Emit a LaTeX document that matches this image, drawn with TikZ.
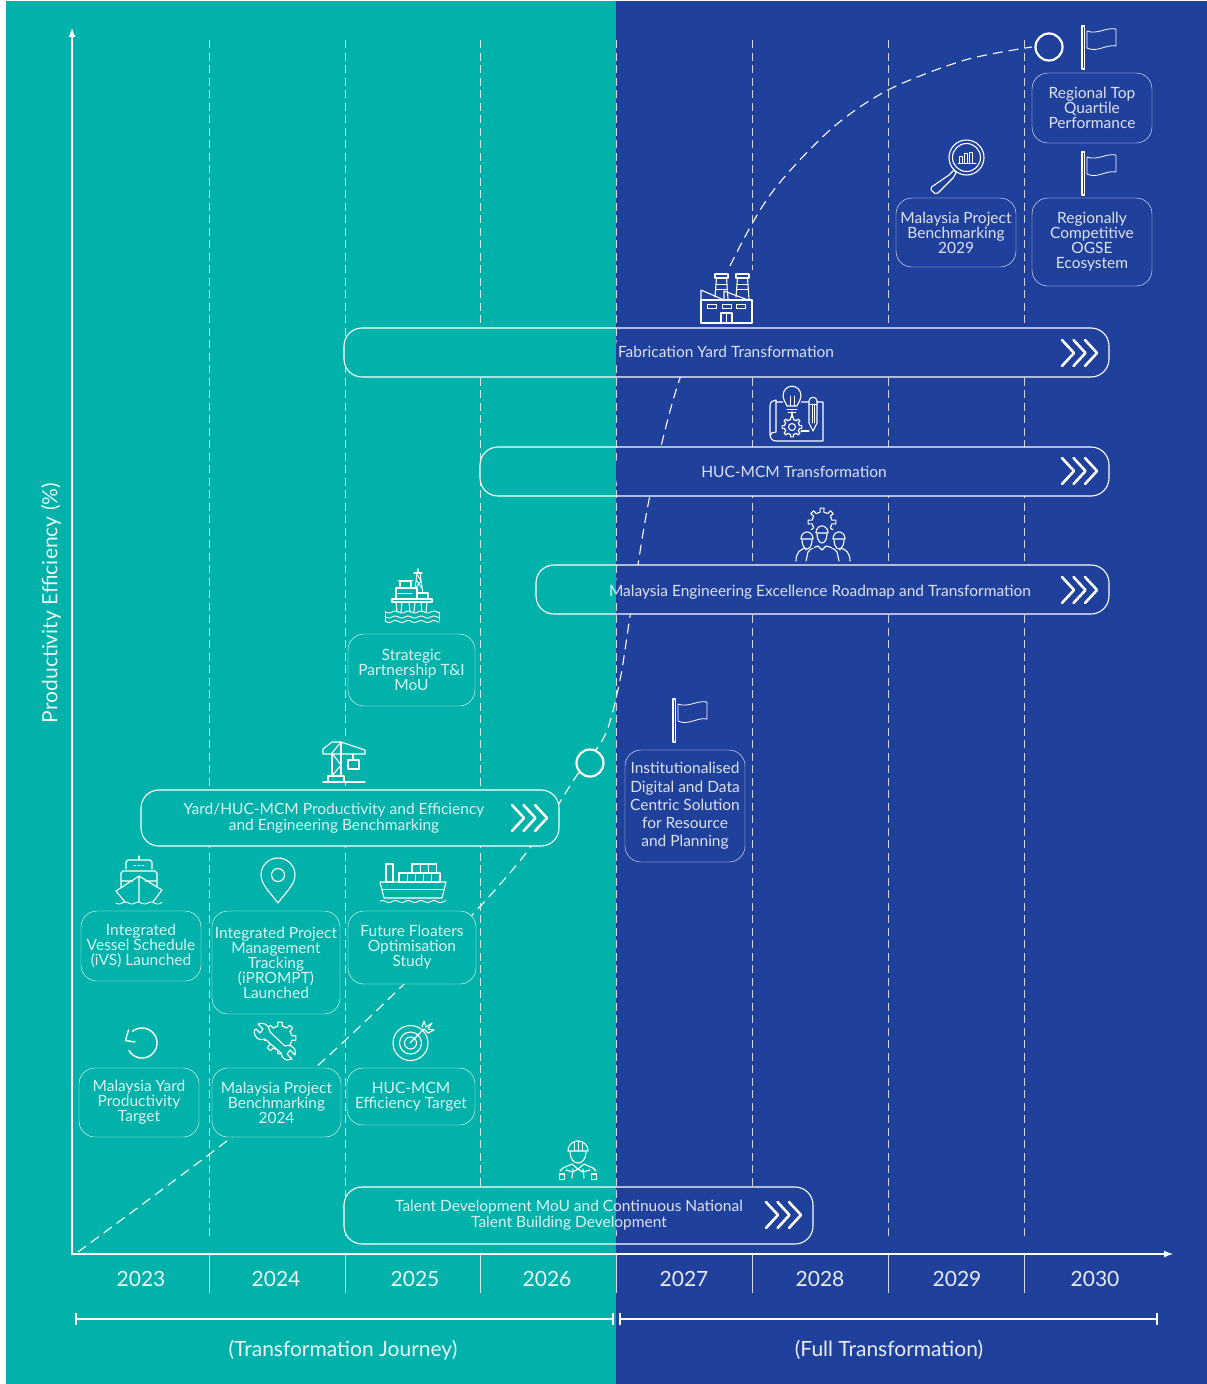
\documentclass[tikz,border=0pt]{standalone}
\usepackage{fontspec}
\setmainfont{Lato}
\definecolor{tealbg}{RGB}{0,178,169}
\definecolor{bluebg}{RGB}{31,64,155}
\tikzset{
  iconline/.style={draw=white, line width=1.1pt, line join=round, line cap=round},
  gridline/.style={draw=white, opacity=.8, line width=1pt, dash pattern=on 8pt off 4.5pt},
  trendline/.style={draw=white, line width=1.1pt, dash pattern=on 10pt off 6pt},
  axisline/.style={draw=white, line width=2pt},
  cardbox/.style={draw=white, opacity=1, rounded corners=16pt, inner sep=0pt, align=center, text=white, text opacity=.85, font=\fontsize{15.5}{15}\selectfont},
  tealcard/.style={cardbox, fill=tealbg},
  bluecard/.style={cardbox, fill=bluebg},
  barbox/.style={draw=white, line width=1.1pt, rounded corners=18pt, inner sep=0pt,
    path picture={
      \fill[tealbg] (divide |- path picture bounding box.north) rectangle (path picture bounding box.south west);
      \fill[bluebg] (divide |- path picture bounding box.north) rectangle (path picture bounding box.south east);
    }},
  bartext/.style={align=center, text=white, text opacity=.85, inner sep=0pt, font=\fontsize{15.5}{16}\selectfont},
  yeartext/.style={text=white, text opacity=.9, inner sep=0pt, font=\fontsize{21}{21}\selectfont},
  marker/.style={circle, draw=white, line width=2.2pt, minimum size=27pt, inner sep=0pt},
}
\newcommand{\chevrons}[2]{\foreach \i in {0,11.5,23} \draw[white, line width=2.6pt, line cap=round, line join=round] (#1+\i,#2-13) -- (#1+\i+12,#2) -- (#1+\i,#2+13);}
\newcommand{\flagicon}[2]{
  \draw[iconline] (#1,#2) rectangle ++(2.5,43);
  \draw[iconline, line width=.8pt] (#1+5,#2+5) .. controls (#1+15,#2+9) and (#1+24,#2+1) .. (#1+34,#2+3) -- (#1+34,#2+20) .. controls (#1+24,#2+18) and (#1+15,#2+27) .. (#1+5,#2+22) -- cycle;}
\newcommand{\gearicon}[4]{\foreach \a in {0,45,...,315} \draw[iconline, shift={(#1,#2)}] (\a-22.5:#3) -- (\a-11:#3) -- (\a-8:#4) -- (\a+8:#4) -- (\a+11:#3) -- (\a+22.5:#3);}
\newcommand{\wavyline}[3]{\draw[iconline, line width=.9pt] plot[domain=#1:#2, samples=50] (\x,{#3+1*sin(\x*28)});}
\newcommand{\workerhead}[3]{
  \fill[#3] (#1-7,#2-2) rectangle (#1+7,#2+8);
  \draw[iconline] plot[domain=180:360, samples=20] ({#1+6*cos(\x)},{#2-1+7*sin(\x)}) -- cycle;
  \draw[iconline] (#1-5,#2) .. controls (#1-5,#2+6) and (#1-2,#2+9) .. (#1,#2+9) .. controls (#1+2,#2+9) and (#1+5,#2+6) .. (#1+5,#2);}
\begin{document}
\begin{tikzpicture}[x=1pt, y=-1pt]
\useasboundingbox (0,0) rectangle (1207,1384);
\coordinate (divide) at (616,0);
\fill[tealbg] (6,1) rectangle (616,1384);
\fill[bluebg] (616,1) rectangle (1207,1384);
% year columns
\foreach \x in {209,345,480,616,752,888,1024} {
  \draw[gridline] (\x,40) -- (\x,1238);
  \draw[white, opacity=.8, line width=1pt] (\x,1254) -- (\x,1293);
}
% axes
\coordinate (ytop) at (72,28);
\coordinate (orig) at (72,1254);
\coordinate (xend) at (1173,1254);
\draw[axisline, <->, >=latex] (ytop) -- (orig) -- (xend);
\node[yeartext, rotate=90] (effaxis) at (51,603) {Productivity Efficiency (\%)};
\foreach \x/\yr in {141/2023,276/2024,415/2025,547/2026,684/2027,820/2028,957/2029,1095/2030}
  \node[yeartext] (yr\yr) at (\x,1279) {\yr};
\coordinate (jstart) at (75,1319);
\coordinate (jend) at (614,1319);
\coordinate (fstart) at (619,1319);
\coordinate (fend) at (1158,1319);
\draw[axisline, line width=1.8pt, |-|] (jstart) -- (jend);
\draw[axisline, line width=1.8pt, |-|] (fstart) -- (fend);
\node[yeartext] (journey) at (343,1350) {(Transformation Journey)};
\node[yeartext] (fulltrans) at (889,1350) {(Full Transformation)};
% trend curve
\draw[trendline] plot[smooth] coordinates {(78,1252) (232,1137) (315,1068) (400,988) (475,912) (530,848) (575,778) (605,735) (620,680) (631,610) (650,495) (680,378) (727,272) (770,195) (830,130) (888,90) (965,60) (1032,47)};
\node[marker, fill=tealbg] (midmark) at (590,763) {};
\node[marker, fill=bluebg] (endmark) at (1049,47) {};
% long bars
\node[barbox, minimum width=765pt, minimum height=49pt] (fabbar) at (726.5,352.5) {};
\node[bartext] (fabtext) at (726,352) {Fabrication Yard Transformation};
\chevrons{1062}{353}
\node[barbox, minimum width=629pt, minimum height=49pt] (hucbar) at (794.5,471.5) {};
\node[bartext] (huctext) at (794,472) {HUC-MCM Transformation};
\chevrons{1062}{471}
\node[barbox, minimum width=573pt, minimum height=49pt] (engbar) at (822.5,589.5) {};
\node[bartext] (engtext) at (820,592) {Malaysia Engineering Excellence Roadmap and Transformation};
\chevrons{1062}{590}
\node[barbox, minimum width=418pt, minimum height=56pt] (yardbar) at (350,818) {};
\node[bartext] (yardtext) at (334,818.5) {Yard/HUC-MCM Productivity and Efficiency\\and Engineering Benchmarking};
\chevrons{512}{818}
\node[barbox, minimum width=469pt, minimum height=57pt] (talentbar) at (578.5,1215.5) {};
\node[bartext] (talenttext) at (569,1215) {Talent Development MoU and Continuous National\\Talent Building Development};
\chevrons{766}{1215}
% cards
\node[bluecard, minimum width=120pt, minimum height=70pt] (topcard) at (1092,108) {Regional Top\\Quartile\\Performance};
\node[bluecard, minimum width=120pt, minimum height=88pt] (ogsecard) at (1092,242) {Regionally\\Competitive\\OGSE\\Ecosystem};
\node[bluecard, minimum width=120pt, minimum height=69pt] (bench29) at (956,232.5) {Malaysia Project\\Benchmarking\\2029};
\node[tealcard, minimum width=127pt, minimum height=72pt] (mou) at (411.5,670) {Strategic\\Partnership T\&I\\MoU};
\node[bluecard, minimum width=120pt, minimum height=112pt, font=\fontsize{15.5}{18.3}\selectfont] (digital) at (685,806) {Institutionalised\\Digital and Data\\Centric Solution\\for Resource\\and Planning};
\node[tealcard, minimum width=120pt, minimum height=70pt] (ivs) at (141,946) {Integrated\\Vessel Schedule\\(iVS) Launched};
\node[tealcard, minimum width=128pt, minimum height=103pt] (iprompt) at (276,962.5) {Integrated Project\\Management\\Tracking\\(iPROMPT)\\Launched};
\node[tealcard, minimum width=128pt, minimum height=73pt] (floaters) at (412,947.5) {Future Floaters\\Optimisation\\Study};
\node[tealcard, minimum width=120pt, minimum height=69pt] (yardtarget) at (139,1102.5) {Malaysia Yard\\Productivity\\Target};
\node[tealcard, minimum width=129pt, minimum height=69pt] (bench24) at (276.5,1102.5) {Malaysia Project\\Benchmarking\\2024};
\node[tealcard, minimum width=128pt, minimum height=57pt] (huctarget) at (411,1096.5) {HUC-MCM\\Efficiency Target};
% flags
\flagicon{1082}{26}
\flagicon{1082}{152}
\flagicon{673}{699}
% magnifier
\draw[iconline] (966.5,157.5) circle (17.5);
\draw[iconline] (966.5,157.5) circle (14);
\draw[iconline, line width=.9pt] (958,163) -- (976,163);
\foreach \x/\h in {959/7,964/10,969/11} \draw[iconline, line width=.9pt] (\x,163) rectangle ++(3.5,-\h);
\draw[iconline] (954,170) -- (949,175) -- (931.5,187) -- (931,190) -- (935,193.5) -- (938,193) -- (953,178) -- (956,173) -- cycle;
% factory
\fill[bluebg] (699,270) rectangle (753,326);
\draw[iconline] (701,323) rectangle (752,300);
\draw[iconline] (701,300) -- (701,290) -- (724,300);
\draw[iconline] (724,300) -- (724,291) -- (748,300);
\foreach \x in {715,736} {
  \draw[iconline] (\x,274) rectangle ++(13,4);
  \draw[iconline] (\x+1.5,278) -- (\x,297);
  \draw[iconline] (\x+11.5,278) -- (\x+13,299);
  \draw[iconline, line width=.8pt] (\x+1,284) -- ++(11,0) (\x+1,289) -- ++(11.5,0);
}
\foreach \x in {707,722,736} \draw[iconline, line width=.9pt] (\x,304) rectangle ++(9.5,4);
\draw[iconline] (721,323) -- (721,313) -- (732,313) -- (732,323) (726.5,313) -- (726.5,323);
% blueprint
\draw[iconline] (776,402) -- (823,402) -- (823,441) -- (776,441) .. controls (772,441) and (770,438) .. (770,434) -- (770,406) .. controls (770,402) and (773,400) .. (776,400) -- (776,432) .. controls (773,432) and (770,433) .. (770,436);
\fill[bluebg] (783,386) rectangle (801,413);
\draw[iconline] (787,406) .. controls (785,401) and (783,400) .. (783,396) .. controls (783,383) and (801,383) .. (801,396) .. controls (801,400) and (799,401) .. (797,406) -- cycle;
\draw[iconline, line width=.9pt] (787,409) -- (797,409) (788,412) -- (796,412) (790,406) -- (790,396) (794,406) -- (794,396);
\draw[iconline] (792,412) -- (792,417);
\gearicon{792}{427}{7.5}{10}
\draw[iconline] (792,427) circle (3.5);
\draw[iconline] (801,431) -- (809,431);
\fill[bluebg] (809,397) rectangle (817,424);
\draw[iconline] (809,401) .. controls (809,396) and (817,396) .. (817,401) -- (817,423) -- (813,431) -- (809,423) -- cycle;
\draw[iconline, line width=.9pt] (809,404) -- (817,404) (812,404) -- (812,423) (814.5,404) -- (814.5,423);
% team
\gearicon{822}{522}{10}{14}
\fill[bluebg] (800,530) rectangle (846,563);
\draw[iconline] (796,561) .. controls (796,553) and (800,549) .. (806,548) -- (806,550);
\draw[iconline] (850,561) .. controls (850,553) and (846,549) .. (840,548) -- (840,550);
\draw[iconline] (806,561) -- (808,552) .. controls (811,548) and (815,547) .. (818,546) -- (822,550) -- (826,546) .. controls (830,547) and (834,548) .. (837,552) -- (839,561);
\workerhead{807}{540}{bluebg}
\workerhead{839}{540}{bluebg}
\workerhead{822}{534}{bluebg}
% rig
\draw[iconline] (392,599) rectangle (432,602);
\draw[iconline] (396,599) rectangle (417,588);
\draw[iconline] (400,588) rectangle (411,581);
\draw[iconline, line width=.8pt] (398,580) -- (413,580);
\draw[iconline] (417,599) rectangle (428,593);
\draw[iconline, line width=.9pt] (415,589) -- (417,573) -- (420,573) -- (423,593) (415,589) -- (421,581) -- (417.5,575) (417,581) -- (422.5,589);
\draw[iconline] (414,573) -- (422,573) (418,573) -- (418,569);
\draw[iconline, line width=.8pt] (398,593) -- (412,593);
\foreach \x in {399,412,424} \draw[iconline] (\x-3,602) -- (\x-2,612) (\x+3,602) -- (\x+2,612);
\wavyline{385}{439}{612}
\wavyline{385}{439}{617}
\wavyline{385}{439}{621.5}
\draw[iconline, line width=.9pt] (385,612) -- (385,621) (439,612) -- (439,621);
% crane
\fill[tealbg] (322,738) rectangle (366,783);
\draw[iconline] (323,782) -- (365,782);
\draw[iconline] (328,782) -- (328,776) -- (344,776) -- (344,782);
\draw[iconline] (332,776) -- (332,753) (341,776) -- (341,742);
\draw[iconline] (332,753) -- (341,765) -- (332,776) (341,742) -- (332,753);
\draw[iconline] (341,742) -- (332,742) -- (323,749) -- (323,754) -- (365,754) -- (365,750) -- cycle;
\draw[iconline] (353,754) -- (353,760);
\draw[iconline] (348,760) rectangle (359,769);
% ship
\draw[iconline] (139,856) -- (139,860);
\draw[iconline] (126,869) -- (126,862) -- (128,860) -- (150,860) -- (152,862) -- (152,869);
\draw[iconline, line width=.9pt] (134,865) -- (136,865) (138,865) -- (140,865) (142,865) -- (144,865);
\draw[iconline] (121,887) -- (121,873) -- (123,871) -- (155,871) -- (157,873) -- (157,887) (121,881) -- (133,881) (145,881) -- (157,881);
\draw[iconline] (139,876) -- (116,891) -- (125,902) (139,876) -- (162,890) -- (153,902) (139,876) -- (139,902);
\wavyline{116}{162}{903}
% pin
\draw[iconline] (278,903) .. controls (271,893) and (261,885) .. (261,875) .. controls (261,865) and (269,858) .. (278,858) .. controls (287,858) and (295,865) .. (295,875) .. controls (295,885) and (285,893) .. (278,903) -- cycle;
\draw[iconline] (278,875) circle (6.5);
% container ship
\draw[iconline] (386,882) rectangle (393,864);
\foreach \x in {399,407.2,415.4,423.6,431.8} \draw[iconline] (\x,882) rectangle ++(8.2,-9);
\foreach \x in {412,420.3,428.6} \draw[iconline] (\x,873) rectangle ++(8.3,-9);
\draw[iconline] (380,882) -- (446,882) -- (442,898) -- (384,898) -- cycle;
\draw[iconline, line width=.9pt] (382,889) -- (444,889);
\wavyline{380}{446}{901.5}
% refresh
\draw[iconline, line width=1.4pt] plot[domain=-130:150, samples=40] ({142+15*cos(\x)},{1043+15*sin(\x)});
\draw[iconline, line width=1.4pt] (128.5,1030) -- (125.5,1040.5) -- (135,1042);
% wrench and gear
\gearicon{280}{1038}{12}{16}
\draw[iconline, fill=tealbg] (256,1029) .. controls (253,1030) and (254,1035) .. (257,1038) .. controls (260,1040) and (263,1040) .. (265,1039) -- (281,1053) .. controls (281,1056) and (283,1059) .. (287,1060) -- (292,1059) -- (287,1054) -- (290,1050) -- (295,1055) .. controls (296,1051) and (295,1048) .. (291,1046) .. controls (289,1045) and (287,1045) .. (285,1046) -- (270,1032) .. controls (270,1029) and (268,1026) .. (265,1024) .. controls (262,1023) and (260,1023) .. (258,1024) -- (263,1029) -- (260,1033) -- cycle;
% target
\foreach \r in {17.5,11,6} \draw[iconline] (410.5,1043) circle (\r);
\draw[iconline] (410,1043) -- (424,1029);
\draw[iconline] (422,1027) -- (424,1021) -- (426,1027) -- (432,1023) -- (428,1029) -- (434,1030) -- (428,1033) -- (424,1029);
% worker
\draw[iconline] plot[domain=180:360, samples=20] ({578+10*cos(\x)},{1151+10*sin(\x)}) -- cycle;
\draw[iconline, line width=.9pt] (574,1142) -- (574,1151) (578,1141) -- (578,1151) (582,1142) -- (582,1151);
\draw[iconline] (570,1152) .. controls (570,1159) and (574,1163) .. (578,1163) .. controls (582,1163) and (586,1159) .. (586,1152);
\draw[iconline] (560,1171) -- (563,1168) -- (572,1164) -- (578,1169) -- (584,1164) -- (593,1168) -- (596,1171);
\draw[iconline] (572,1178) -- (573,1169) (584,1178) -- (583,1169) (566,1170) -- (573,1172) -- (578,1169) -- (583,1172) -- (590,1170);
\draw[iconline] (559.5,1174) rectangle ++(5,5.5);
\draw[iconline] (591.5,1174) rectangle ++(5,5.5);
\end{tikzpicture}
\end{document}
